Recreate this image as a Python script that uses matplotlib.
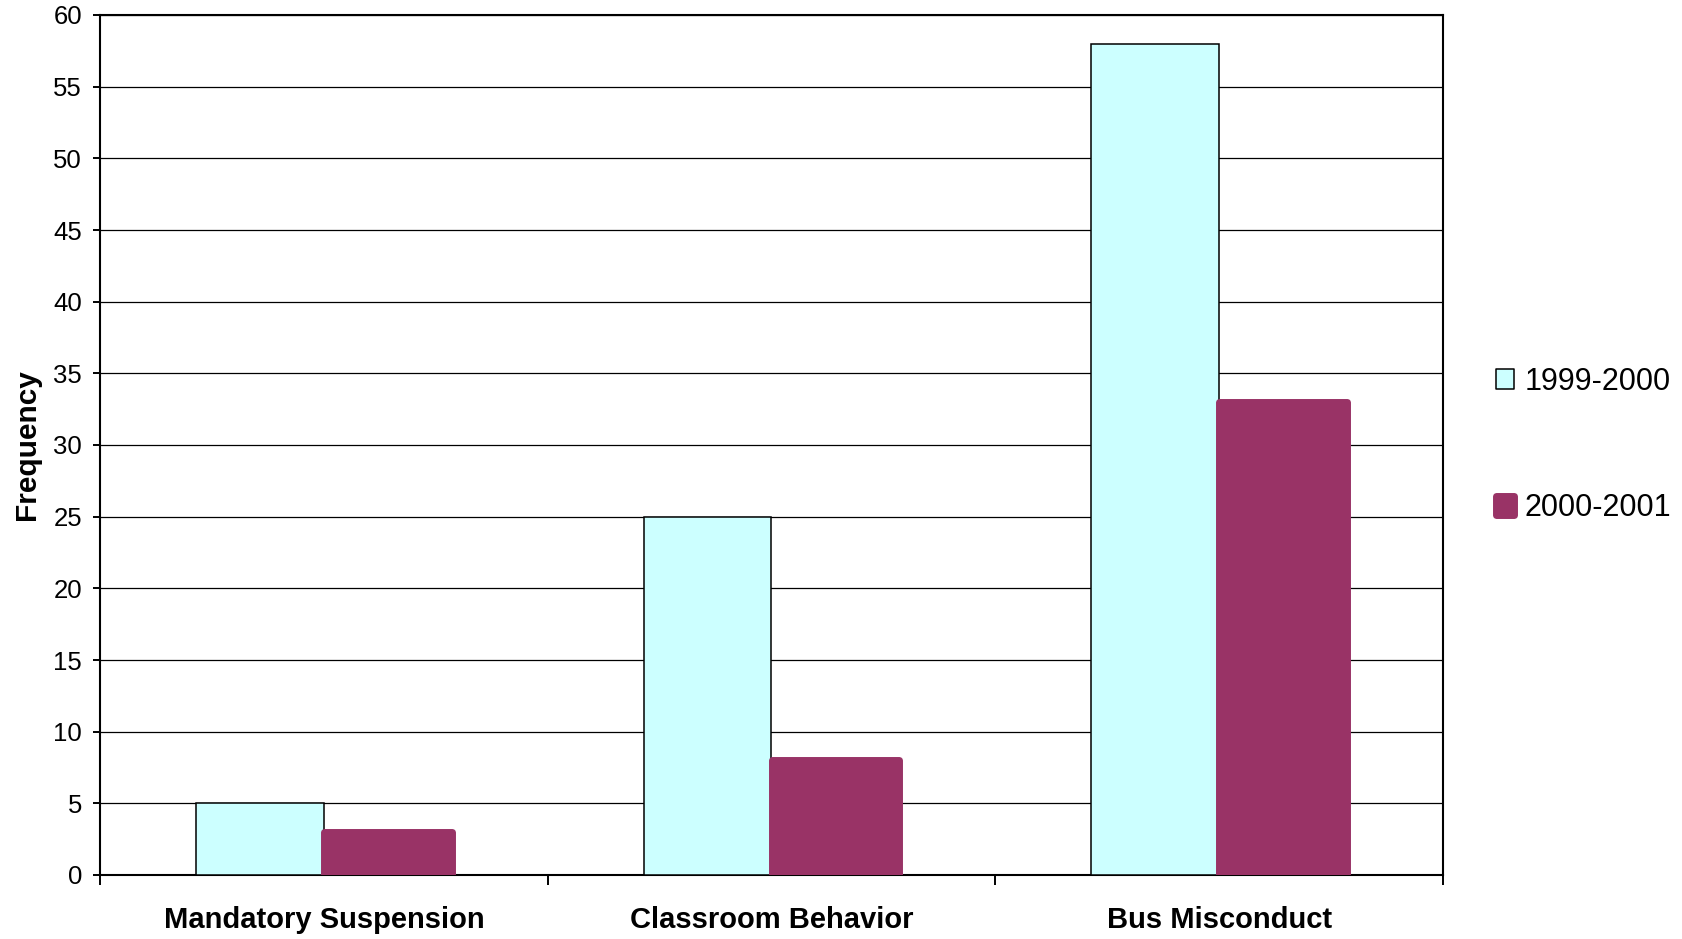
import matplotlib
matplotlib.use("Agg")
import matplotlib.pyplot as plt
import numpy as np

categories = ["Mandatory Suspension", "Classroom Behavior", "Bus Misconduct"]
series_names = ["1999-2000", "2000-2001"]
values_1999 = [5, 25, 58]
values_2000 = [3, 8, 33]
y_ticks = list(range(0, 61, 5))

plt.rcParams["font.family"] = ["Liberation Sans", "DejaVu Sans"]

fig = plt.figure(figsize=(16.82, 9.39), dpi=100)
ax = fig.add_axes([100 / 1682, 1 - 875 / 939, 1343 / 1682, 860 / 939])

x = np.arange(len(categories))
bar_w = 1 / 3.5  # gap width of 150%

ax.bar(x - bar_w / 2, values_1999, width=bar_w, color="#CCFFFF",
       edgecolor="black", linewidth=1.1, zorder=3, label=series_names[0])
ax.bar(x + bar_w / 2, values_2000, width=bar_w, color="#993366",
       edgecolor="#993366", linewidth=5, joinstyle="round", zorder=4,
       label=series_names[1])

ax.set_xlim(-0.5, len(categories) - 0.5)
ax.set_ylim(0, 60)
ax.set_yticks(y_ticks)
ax.set_yticklabels([str(v) for v in y_ticks], fontsize=18.5)
ax.yaxis.grid(True, color="black", linewidth=0.9)
ax.set_axisbelow(True)
ax.tick_params(axis="y", direction="out", length=5, width=1.4, pad=8)

# category labels centred, ticks on category boundaries
ax.set_xticks(np.arange(len(categories) + 1) - 0.5)
ax.set_xticklabels([])
ax.tick_params(axis="x", direction="out", length=7, width=1.4)
for xi, name in zip(x, categories):
    ax.text(xi, -0.052, name, transform=ax.get_xaxis_transform(),
            ha="center", va="center", fontsize=21, fontweight="bold")

for s in ax.spines.values():
    s.set_linewidth(1.5)
    s.set_color("black")

ax.set_ylabel("Frequency", fontsize=21.5, fontweight="bold")
ax.yaxis.set_label_coords(-0.044, 0.5)

leg = ax.legend(loc="center left", bbox_to_anchor=(1.019, 0.5),
                frameon=False, fontsize=22, handlelength=0.59,
                handleheight=0.59, handletextpad=0.33, labelspacing=3.15)
for h in leg.legend_handles:
    h.set_joinstyle("round")

fig.savefig("out.png", dpi=100)
